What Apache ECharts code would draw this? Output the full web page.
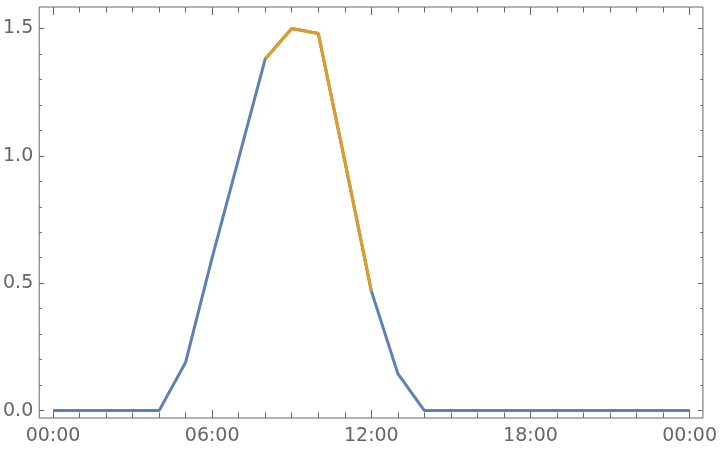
<!DOCTYPE html>
<html>
<head>
<meta charset="utf-8">
<script src="https://cdn.jsdelivr.net/npm/echarts@6/dist/echarts.min.js"></script>
<style>
html,body{margin:0;padding:0;background:#fff;}
#chart{width:720px;height:450px;}
</style>
</head>
<body>
<div id="chart"></div>
<script>
// Data (hours of day, value)
const hours = [0,1,2,3,4,5,6,7,8,9,10,11,12,13,14,15,16,17,18,19,20,21,22,23,24];
const blueValues = [0,0,0,0,0,0.19,0.60,0.99,1.38,1.50,1.48,0.98,0.47,0.145,0,0,0,0,0,0,0,0,0,0,0];
const orangeHours = [8,9,10,11,12];
const orangeValues = [1.38,1.50,1.48,0.98,0.47];

// Ticks
const xMajorTicks = [0,6,12,18,24];
const xTickLabels = ['00:00','06:00','12:00','18:00','00:00'];
const xMinorTicks = [1,2,3,4,5,7,8,9,10,11,13,14,15,16,17,19,20,21,22,23];
const yMajorTicks = [0,0.5,1,1.5];
const yTickLabels = ['0.0','0.5','1.0','1.5'];
const yMinorTicks = [0.1,0.2,0.3,0.4,0.6,0.7,0.8,0.9,1.1,1.2,1.3,1.4];

const X_MIN = -0.52, X_MAX = 24.5;
const Y_MIN = -0.029, Y_MAX = 1.584;
const AX = '#666';
const FONT = 'DejaVu Sans';

function xAxisDef(position, ticks, len, withLabels) {
  return {
    type: 'value', position: position, min: X_MIN, max: X_MAX,
    axisLine: {show: false, onZero: false}, splitLine: {show: false},
    axisTick: {show: true, inside: true, length: len, customValues: ticks, lineStyle: {color: AX, width: 1}},
    axisLabel: withLabels ? {
      show: true, customValues: xMajorTicks, fontSize: 19, color: AX, fontFamily: FONT, margin: 9,
      formatter: function (v) { const i = xMajorTicks.indexOf(v); return i >= 0 ? xTickLabels[i] : ''; }
    } : {show: false}
  };
}
function yAxisDef(position, ticks, len, withLabels) {
  return {
    type: 'value', position: position, min: Y_MIN, max: Y_MAX,
    axisLine: {show: false, onZero: false}, splitLine: {show: false},
    axisTick: {show: true, inside: true, length: len, customValues: ticks, lineStyle: {color: AX, width: 1}},
    axisLabel: withLabels ? {
      show: true, customValues: yMajorTicks, fontSize: 19, color: AX, fontFamily: FONT, margin: 6,
      formatter: function (v) {
        for (let i = 0; i < yMajorTicks.length; i++) if (Math.abs(yMajorTicks[i] - v) < 1e-9) return yTickLabels[i];
        return '';
      }
    } : {show: false}
  };
}

const chart = echarts.init(document.getElementById('chart'), null, {renderer: 'canvas'});
chart.setOption({
  animation: false,
  backgroundColor: '#fff',
  grid: {left: 38, top: 7, right: 16, bottom: 32, show: true, borderColor: AX, borderWidth: 1, backgroundColor: 'transparent'},
  xAxis: [
    xAxisDef('bottom', xMajorTicks, 8, true),
    xAxisDef('bottom', xMinorTicks, 5.5, false),
    xAxisDef('top', xMajorTicks, 8, false),
    xAxisDef('top', xMinorTicks, 5.5, false)
  ],
  yAxis: [
    yAxisDef('left', yMajorTicks, 5, true),
    yAxisDef('left', yMinorTicks, 2.5, false),
    yAxisDef('right', yMajorTicks, 5, false),
    yAxisDef('right', yMinorTicks, 2.5, false)
  ],
  series: [
    {
      type: 'line', xAxisIndex: 0, yAxisIndex: 0, showSymbol: false, symbol: 'none',
      data: hours.map((h, i) => [h, blueValues[i]]),
      lineStyle: {color: '#5E81B5', width: 3}, z: 2
    },
    {
      type: 'line', xAxisIndex: 0, yAxisIndex: 0, showSymbol: false, symbol: 'none',
      data: orangeHours.map((h, i) => [h, orangeValues[i]]),
      lineStyle: {color: '#E19C24', width: 3}, z: 3
    }
  ]
});
</script>
</body>
</html>
